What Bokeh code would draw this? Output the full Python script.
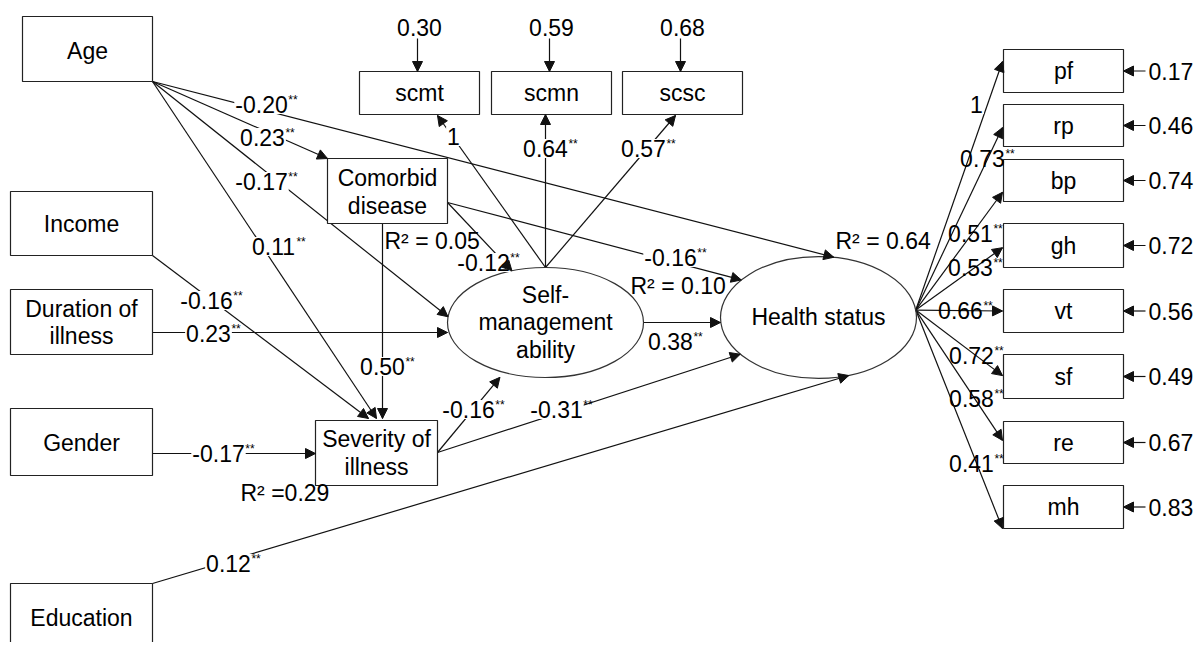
import numpy as np
from bokeh.plotting import figure
from bokeh.models import Range1d, Arrow, NormalHead, ColumnDataSource
from bokeh.core.properties import value
from bokeh.embed import file_html
from bokeh.resources import INLINE

FONT = "Liberation Sans"
FS = 23          # main font size, px
INK = "#000000"

# ------------------------------------------------------------------ data
exog_names = ["Age", "Income", "Duration of\nillness", "Gender", "Education"]
mediator_names = ["Comorbid\ndisease", "Severity of\nillness"]
latent_names = ["Self-\nmanagement\nability", "Health status"]

path_from = ["Age", "Age", "Age", "Age", "Income", "Duration", "Gender", "Education",
             "Comorbid", "Comorbid", "Comorbid", "Severity", "Severity", "SM"]
path_to = ["HS", "Comorbid", "SM", "Severity", "Severity", "SM", "Severity", "HS",
           "Severity", "SM", "HS", "SM", "HS", "HS"]
path_coef = ["-0.20", "0.23", "-0.17", "0.11", "-0.16", "0.23", "-0.17", "0.12",
             "0.50", "-0.12", "-0.16", "-0.16", "-0.31", "0.38"]
path_sig = ["**"] * 14

r2_nodes = ["Comorbid", "Severity", "SM", "HS"]
r2_text = ["R\u00b2 = 0.05", "R\u00b2 =0.29", "R\u00b2 = 0.10", "R\u00b2 = 0.64"]

sm_indicators = ["scmt", "scmn", "scsc"]
sm_loadings = ["1", "0.64", "0.57"]
sm_sig = ["", "**", "**"]
sm_residuals = ["0.30", "0.59", "0.68"]

hs_indicators = ["pf", "rp", "bp", "gh", "vt", "sf", "re", "mh"]
hs_loadings = ["1", "0.73", "0.51", "0.53", "0.66", "0.72", "0.58", "0.41"]
hs_sig = ["", "**", "**", "**", "**", "**", "**", "**"]
hs_residuals = ["0.17", "0.46", "0.74", "0.72", "0.56", "0.49", "0.67", "0.83"]

# ------------------------------------------------------------------ layout (pixels)
W, H = 1195, 642
BOX = {  # left, right, top, bottom
    "Age": (22, 152, 16, 81),
    "Income": (10, 152, 191, 255),
    "Duration": (10, 152, 289, 354),
    "Gender": (10, 152, 408, 475),
    "Education": (10, 152, 583, 680),
    "Comorbid": (327, 447, 158, 223),
    "Severity": (315, 437, 420, 485),
}
exog_keys = ["Age", "Income", "Duration", "Gender", "Education"]
exog_text_y = [50, 223, 322, 442, 617]
med_keys = ["Comorbid", "Severity"]

sm_box_x = [(359, 479), (491, 611), (622, 742)]
sm_box_y = (71, 114)
hs_box_x = (1003, 1123)
hs_box_y = [(49, 92), (104, 146), (159, 201), (223, 267), (289, 332),
             (354, 398), (421, 463), (485, 528)]
hs_end_frac = [0.28, 0.55, 0.78, 0.55, 0.5, 0.48, 0.45, 1.0]

ELL = {"SM": (545, 322, 98, 55), "HS": (818, 317, 98, 61)}


def ell_pt(key, deg, shrink=0.0):
    cx, cy, rx, ry = ELL[key]
    t = np.radians(deg)
    return (cx + (rx + shrink) * np.cos(t), cy - (ry + shrink) * np.sin(t))


def corner(key, fx, fy):
    l, r, t, b = BOX[key]
    return (l + (r - l) * fx, t + (b - t) * fy)


# geometry of each structural path, same order as path_* lists
path_start = [corner("Age", 1, 1)] * 4 + [corner("Income", 1, 1), (152, 332), (152, 453),
              corner("Education", 1, 0), (382, 223), (447, 202), (447, 202),
              (437, 452), (437, 452), ell_pt("SM", 0)]
path_end = [ell_pt("HS", 81), corner("Comorbid", 0, 0), ell_pt("SM", 174), (376, 418),
            (368, 418), (447, 332), corner("Severity", 0, 0.508), ell_pt("HS", -72),
            (382, 418), ell_pt("SM", 110), ell_pt("HS", 142), ell_pt("SM", -116, 6),
            ell_pt("HS", 217), (720, 322)]
path_label_xy = [(261, 104), (262, 137), (261, 181), (273, 246), (206, 300), (208, 333),
                 (218, 453), (228, 563), (382, 366), (483, 262), (670, 257), (468, 409),
                 (556, 409), (670, 341)]
path_label_bg = [True] * 13 + [False]

r2_xy = [(384, 240), (240, 492), (630, 285), (835, 240)]

sm_label_xy = [(453, 136), (545, 148), (643, 148)]
sm_ends = [(437, 115), (545, 114), (675, 115)]
hs_origin = ell_pt("HS", 7)
hs_label_xy = [(976, 104), (982, 158), (970, 233), (970, 267), (960, 310),
               (971, 355), (971, 398), (971, 463)]

CW = {".": 0.278, "-": 0.333, " ": 0.278}


def text_w(s, fs=FS):
    return sum(CW.get(c, 0.556) for c in s) * fs


# ------------------------------------------------------------------ figure
p = figure(width=W, height=H, x_range=Range1d(0, W), y_range=Range1d(H, 0),
           output_backend="svg", toolbar_location=None, min_border=0,
           x_axis_location=None, y_axis_location=None)
p.grid.visible = False
p.outline_line_color = None
p.background_fill_color = "white"

# collect all arrows: (x0, y0, x1, y1)
arrows = []
for s, e in zip(path_start, path_end):
    arrows.append((s[0], s[1], e[0], e[1]))
sm_top = ell_pt("SM", 90)
for e in sm_ends:
    arrows.append((sm_top[0], sm_top[1], e[0], e[1]))
for (yt, yb), f in zip(hs_box_y, hs_end_frac):
    arrows.append((hs_origin[0], hs_origin[1], hs_box_x[0] - 1, yt + (yb - yt) * f))
# residual arrows
for (l, r) in sm_box_x:
    cx = (l + r) / 2 - 2
    arrows.append((cx, 38, cx, sm_box_y[0]))
for (yt, yb) in hs_box_y:
    yc = (yt + yb) / 2
    arrows.append((1145, yc, hs_box_x[1], yc))

asrc = ColumnDataSource(dict(x0=[a[0] for a in arrows], y0=[a[1] for a in arrows],
                             x1=[a[2] for a in arrows], y1=[a[3] for a in arrows]))
p.segment(x0="x0", y0="y0", x1="x1", y1="y1", source=asrc, line_color="#111111",
          line_width=1.2)

# boxes
allbox = [BOX[k] for k in exog_keys + med_keys]
allbox += [(l, r, sm_box_y[0], sm_box_y[1]) for (l, r) in sm_box_x]
allbox += [(hs_box_x[0], hs_box_x[1], t, b) for (t, b) in hs_box_y]
p.quad(left=[b[0] for b in allbox], right=[b[1] for b in allbox],
       top=[b[2] for b in allbox], bottom=[b[3] for b in allbox],
       fill_color="white", line_color="#222222", line_width=1.2)

# ellipses
p.ellipse(x=[ELL[k][0] for k in ELL], y=[ELL[k][1] for k in ELL],
          width=[2 * ELL[k][2] for k in ELL], height=[2 * ELL[k][3] for k in ELL],
          fill_color=None, line_color="#333333", line_width=1.2)

# arrow heads (drawn on top)
p.add_layout(Arrow(source=asrc, x_start="x0", y_start="y0", x_end="x1", y_end="y1",
                   line_alpha=0,
                   end=NormalHead(size=10, fill_color="#111111", line_color="#111111",
                                  line_width=1)))

txt_kw = dict(text_font=value(FONT), text_font_size=f"{FS}px", text_color=INK,
              text_line_height=1.06)

# node labels
node_x = [(BOX[k][0] + BOX[k][1]) / 2 for k in exog_keys]
node_y = list(exog_text_y)
node_t = list(exog_names)
node_x += [(BOX[k][0] + BOX[k][1]) / 2 for k in med_keys]
node_y += [(BOX["Comorbid"][2] + BOX["Comorbid"][3]) / 2 + 1,
           (BOX["Severity"][2] + BOX["Severity"][3]) / 2]
node_t += mediator_names
node_x += [ELL["SM"][0], ELL["HS"][0]]
node_y += [ELL["SM"][1], ELL["HS"][1] - 1]
node_t += latent_names
node_x += [(l + r) / 2 for (l, r) in sm_box_x]
node_y += [(sm_box_y[0] + sm_box_y[1]) / 2] * 3
node_t += sm_indicators
node_x += [(hs_box_x[0] + hs_box_x[1]) / 2] * 8
node_y += [(t + b) / 2 for (t, b) in hs_box_y]
node_t += hs_indicators
p.text(x=node_x, y=node_y, text=node_t, text_align="center", text_baseline="middle", **txt_kw)

# residual texts
res_x = [(l + r) / 2 for (l, r) in sm_box_x] + [1148] * 8
res_y = [27] * 3 + [(t + b) / 2 for (t, b) in hs_box_y]
p.text(x=res_x[:3], y=res_y[:3], text=sm_residuals, text_align="center",
       text_baseline="middle", **txt_kw)
p.text(x=res_x[3:], y=res_y[3:], text=hs_residuals, text_align="left",
       text_baseline="middle", **txt_kw)

# R^2
p.text(x=[q[0] for q in r2_xy], y=[q[1] for q in r2_xy], text=r2_text,
       text_align="left", text_baseline="middle", **txt_kw)

# coefficient labels
lab_t = path_coef + sm_loadings + hs_loadings
lab_s = path_sig + sm_sig + hs_sig
lab_xy = path_label_xy + sm_label_xy + hs_label_xy
lab_bg = path_label_bg + [True, True, True] + [True] + [False] * 7

bg_idx = [i for i in range(len(lab_t)) if lab_bg[i]]
nb_idx = [i for i in range(len(lab_t)) if not lab_bg[i]]

p.text(x=[lab_xy[i][0] for i in bg_idx], y=[lab_xy[i][1] for i in bg_idx],
       text=[lab_t[i] for i in bg_idx], text_align="center", text_baseline="middle",
       background_fill_color="white", padding=1, **txt_kw)
p.text(x=[lab_xy[i][0] for i in nb_idx], y=[lab_xy[i][1] for i in nb_idx],
       text=[lab_t[i] for i in nb_idx], text_align="center", text_baseline="middle",
       **txt_kw)

star_x, star_y, star_t = [], [], []
for t, s, (x, y) in zip(lab_t, lab_s, lab_xy):
    if s:
        star_x.append(x + text_w(t) / 2 + 0.5)
        star_y.append(y - 5)
        star_t.append(s)
p.text(x=star_x, y=star_y, text=star_t, text_align="left", text_baseline="middle",
       text_font=value(FONT), text_font_size="12px", text_color=INK)

open("out.html", "w").write(file_html(p, INLINE))
